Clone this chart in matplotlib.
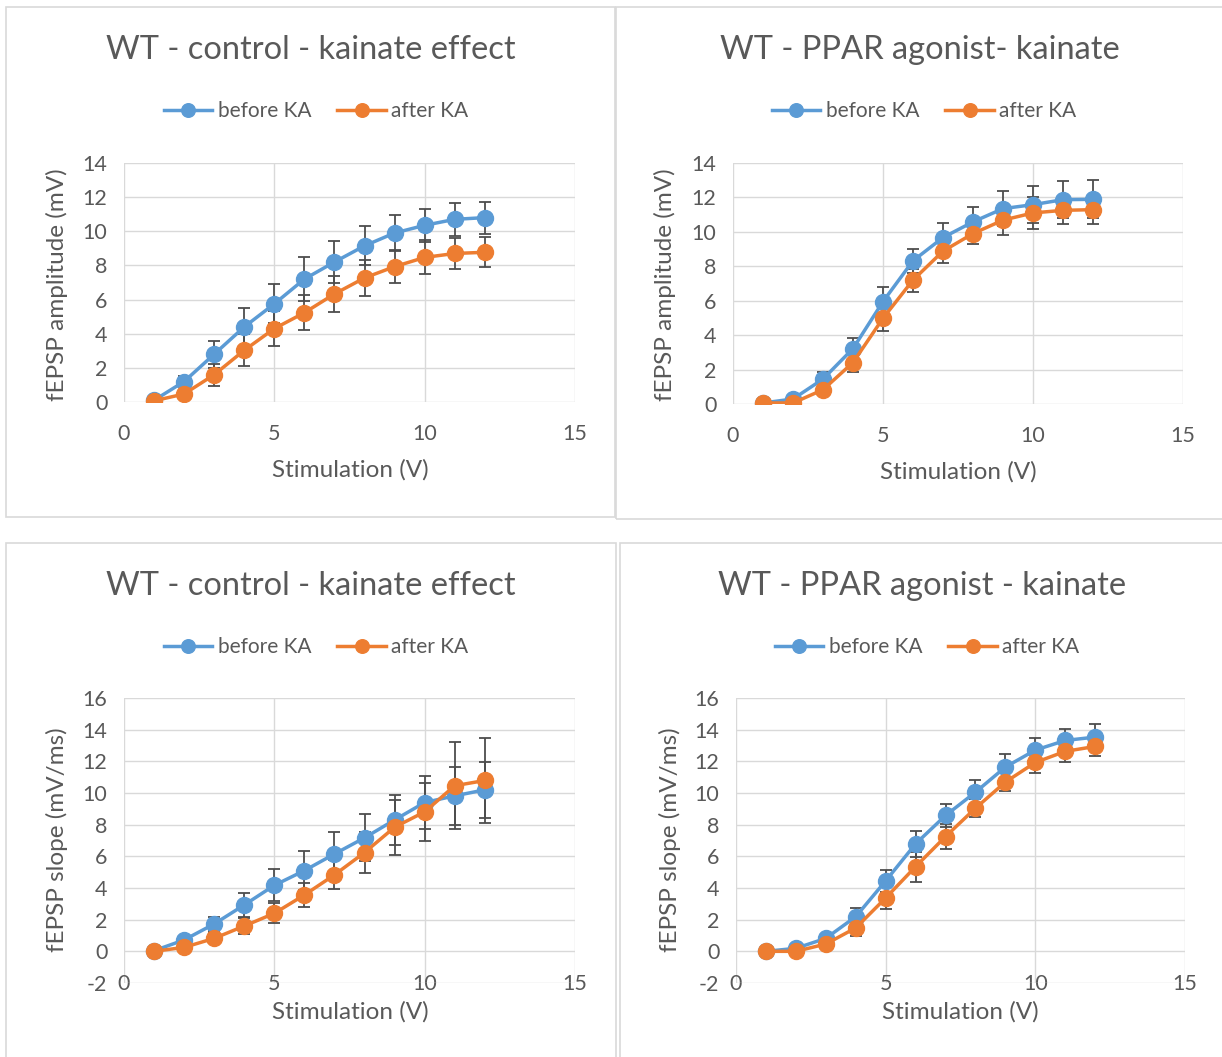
import numpy as np
import matplotlib.pyplot as plt
from matplotlib.patches import Rectangle

plt.rcParams['font.family'] = ['Lato', 'DejaVu Sans']
plt.rcParams['axes.unicode_minus'] = False

W, H = 1222, 1057

# data
stim = [1, 2, 3, 4, 5, 6, 7, 8, 9, 10, 11, 12]

amp_ctrl_before = [0.1, 1.2, 2.8, 4.4, 5.75, 7.2, 8.2, 9.15, 9.9, 10.35, 10.7, 10.8]
amp_ctrl_before_err = [0.1, 0.35, 0.8, 1.1, 1.15, 1.3, 1.25, 1.15, 1.05, 0.95, 0.97, 0.93]
amp_ctrl_after = [0.07, 0.47, 1.6, 3.03, 4.3, 5.23, 6.33, 7.27, 7.93, 8.47, 8.7, 8.77]
amp_ctrl_after_err = [0.05, 0.15, 0.65, 0.94, 1.04, 1.03, 1.06, 1.06, 0.96, 1.0, 0.9, 0.87]

amp_ppar_before = [0.06, 0.29, 1.45, 3.22, 5.95, 8.32, 9.67, 10.58, 11.35, 11.58, 11.87, 11.89]
amp_ppar_before_err = [0.05, 0.1, 0.38, 0.64, 0.86, 0.71, 0.85, 0.85, 1.02, 1.08, 1.08, 1.1]
amp_ppar_after = [0.06, 0.06, 0.83, 2.41, 4.98, 7.2, 8.88, 9.9, 10.68, 11.1, 11.25, 11.29]
amp_ppar_after_err = [0.03, 0.05, 0.3, 0.58, 0.73, 0.67, 0.68, 0.63, 0.85, 0.91, 0.81, 0.81]

slope_ctrl_before = [0.04, 0.72, 1.73, 2.93, 4.17, 5.1, 6.15, 7.17, 8.3, 9.4, 9.82, 10.2]
slope_ctrl_before_err = [0.05, 0.2, 0.46, 0.74, 1.02, 1.25, 1.38, 1.49, 1.57, 1.65, 1.82, 1.75]
slope_ctrl_after = [0.0, 0.25, 0.82, 1.6, 2.4, 3.56, 4.83, 6.24, 7.84, 8.81, 10.46, 10.79]
slope_ctrl_after_err = [0.03, 0.12, 0.32, 0.5, 0.63, 0.74, 0.91, 1.27, 1.73, 1.83, 2.75, 2.7]

slope_ppar_before = [0.0, 0.19, 0.82, 2.19, 4.45, 6.79, 8.58, 10.05, 11.64, 12.71, 13.32, 13.53]
slope_ppar_before_err = [0.03, 0.1, 0.3, 0.53, 0.69, 0.84, 0.74, 0.74, 0.82, 0.76, 0.72, 0.85]
slope_ppar_after = [0.0, 0.0, 0.46, 1.48, 3.37, 5.35, 7.25, 9.04, 10.69, 11.93, 12.63, 12.94]
slope_ppar_after_err = [0.03, 0.05, 0.25, 0.49, 0.69, 0.94, 0.8, 0.57, 0.59, 0.67, 0.7, 0.59]

titles = ['WT - control - kainate effect', 'WT - PPAR agonist- kainate',
          'WT - control - kainate effect', 'WT - PPAR agonist - kainate']
series_names = ['before KA', 'after KA']
xlabel = 'Stimulation (V)'
ylabels = ['fEPSP amplitude (mV)', 'fEPSP amplitude (mV)',
           'fEPSP slope (mV/ms)', 'fEPSP slope (mV/ms)']

BLUE = '#5B9BD5'
ORANGE = '#ED7D31'
GRID = '#D9D9D9'
TXT = '#595959'
ERR = '#4D4D4D'


def fx(x):
    return x / W


def fy(y):
    return 1 - y / H


fig = plt.figure(figsize=(W / 100, H / 100), dpi=100)

# chart frames (pixel boxes: left, top, right, bottom)
frames = [(6, 7, 615, 517), (616, 7, 1230, 519), (6, 543, 616, 1065), (620, 543, 1230, 1065)]
for l, t, r, b in frames:
    fig.add_artist(Rectangle((fx(l), fy(b)), fx(r - l), (b - t) / H,
                             transform=fig.transFigure, fill=False,
                             edgecolor=GRID, linewidth=1.2))

# plot areas in pixels: left, top, right, bottom
areas = [(124, 163, 575, 402), (733, 163, 1183, 404),
         (124, 698, 575, 983), (736, 698, 1185, 983)]
ylims = [(0, 14), (0, 14), (-2, 16), (-2, 16)]
data = [
    (amp_ctrl_before, amp_ctrl_before_err, amp_ctrl_after, amp_ctrl_after_err),
    (amp_ppar_before, amp_ppar_before_err, amp_ppar_after, amp_ppar_after_err),
    (slope_ctrl_before, slope_ctrl_before_err, slope_ctrl_after, slope_ctrl_after_err),
    (slope_ppar_before, slope_ppar_before_err, slope_ppar_after, slope_ppar_after_err),
]
title_pos = [(311, 50), (920, 50), (311, 586), (922, 586)]
legend_pos = [(316, 111), (924, 111), (316, 647), (927, 647)]
xlabel_pos = [(350, 470), (958, 472), (350, 1012), (960, 1012)]
ylabel_pos = [(57, 285), (665, 285), (57, 840), (670, 840)]

for i in range(4):
    l, t, r, b = areas[i]
    ax = fig.add_axes([fx(l), fy(b), (r - l) / W, (b - t) / H])
    yb, ybe, ya, yae = data[i]

    for y, e, c, name in [(yb, ybe, BLUE, series_names[0]), (ya, yae, ORANGE, series_names[1])]:
        ax.errorbar(stim, y, yerr=e, fmt='none', ecolor=ERR, elinewidth=1.3,
                    capsize=4.5, capthick=1.3, zorder=2)
        ax.plot(stim, y, color=c, linewidth=2.5, marker='o', markersize=11.5,
                label=name, zorder=3)

    ax.set_xlim(0, 15)
    ax.set_ylim(*ylims[i])
    ax.set_xticks([0, 5, 10, 15])
    lo, hi = ylims[i]
    ax.set_yticks(np.arange(lo, hi + 1, 2))
    ax.grid(True, color=GRID, linewidth=1.0)
    ax.set_axisbelow(True)
    for s in ax.spines.values():
        s.set_visible(False)
    if lo < 0:
        ax.spines['bottom'].set_position(('data', 0))
    ax.tick_params(length=0, labelsize=15.5, labelcolor=TXT)
    ax.tick_params(axis='x', pad=16)
    ax.tick_params(axis='y', pad=12)

    tx, ty = title_pos[i]
    fig.text(fx(tx), fy(ty), titles[i], ha='center', va='center',
             fontsize=23.5, color=TXT)
    lx, ly = legend_pos[i]
    ax.legend(loc='center', bbox_to_anchor=(fx(lx), fy(ly)),
              bbox_transform=fig.transFigure, ncol=2, frameon=False,
              fontsize=15, labelcolor=TXT, handlelength=2.35,
              handletextpad=0.25, columnspacing=1.25, markerscale=0.85)
    xx, xy = xlabel_pos[i]
    fig.text(fx(xx), fy(xy), xlabel, ha='center', va='center',
             fontsize=17.5, color=TXT)
    yx, yy = ylabel_pos[i]
    fig.text(fx(yx), fy(yy), ylabels[i], ha='center', va='center',
             rotation=90, fontsize=17.5, color=TXT)

fig.savefig('out.png', dpi=100, facecolor='white')
